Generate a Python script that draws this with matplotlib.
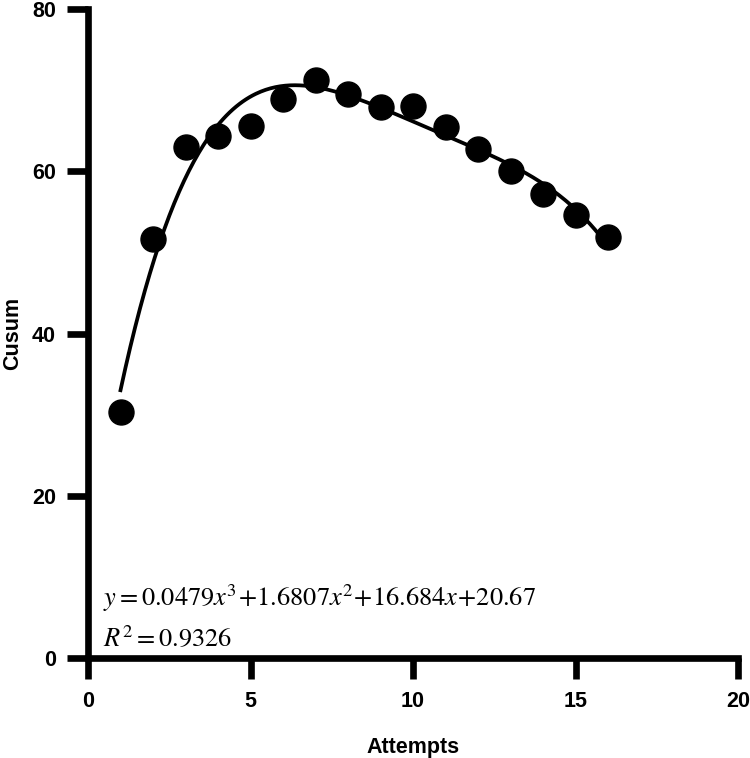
import matplotlib.pyplot as plt
import numpy as np

# data
attempts = [1, 2, 3, 4, 5, 6, 7, 8, 9, 10, 11, 12, 13, 14, 15, 16]
cusum = [30.3, 51.7, 63.0, 64.3, 65.6, 68.9, 71.3, 69.5, 67.9, 68.1, 65.4, 62.7, 60.0, 57.2, 54.6, 51.9]
x_ticks = [0, 5, 10, 15, 20]
y_ticks = [0, 20, 40, 60, 80]
equation = r"$y = 0.0479x^3\!+\!1.6807x^2\!+\!16.684x\!+\!20.67$"
r_squared = r"$R^2 = 0.9326$"

plt.rcParams["mathtext.fontset"] = "stix"

fig = plt.figure(figsize=(7.5, 7.58), dpi=100)
ax = fig.add_axes([88 / 750, 100 / 758, 650 / 750, 649 / 758])

# fitted trend curve through the points
coef = np.polyfit(attempts, cusum, 4)
xs = np.linspace(min(attempts), max(attempts), 300)
ax.plot(xs, np.polyval(coef, xs), color="black", linewidth=2.7, zorder=2)
ax.plot(attempts, cusum, "o", color="black", markersize=18, zorder=3, clip_on=False)

ax.set_xlim(0, 20)
ax.set_ylim(0, 80)
ax.set_xticks(x_ticks)
ax.set_yticks(y_ticks)

for side in ["top", "right"]:
    ax.spines[side].set_visible(False)
for side in ["left", "bottom"]:
    ax.spines[side].set_linewidth(4.8)
    ax.spines[side].set_capstyle("projecting")

ax.tick_params(width=4.8, length=15, direction="out", labelsize=15.5)
ax.tick_params(axis="x", pad=8.5)
ax.tick_params(axis="y", pad=8)
for lab in ax.get_xticklabels() + ax.get_yticklabels():
    lab.set_fontweight("bold")
    lab.set_fontfamily("Liberation Sans")

ax.set_xlabel("Attempts", fontsize=15.5, fontweight="bold", family="Liberation Sans")
ax.set_ylabel("Cusum", fontsize=15.5, fontweight="bold", family="Liberation Sans")
ax.xaxis.set_label_coords(0.5, -0.1217)
ax.yaxis.set_label_coords(-0.1, 0.5)

ax.text(0.45, 6.4, equation, fontsize=19, ha="left", va="baseline")
ax.text(0.45, 1.5, r_squared, fontsize=19, ha="left", va="baseline")

fig.savefig("out.png", dpi=100)
